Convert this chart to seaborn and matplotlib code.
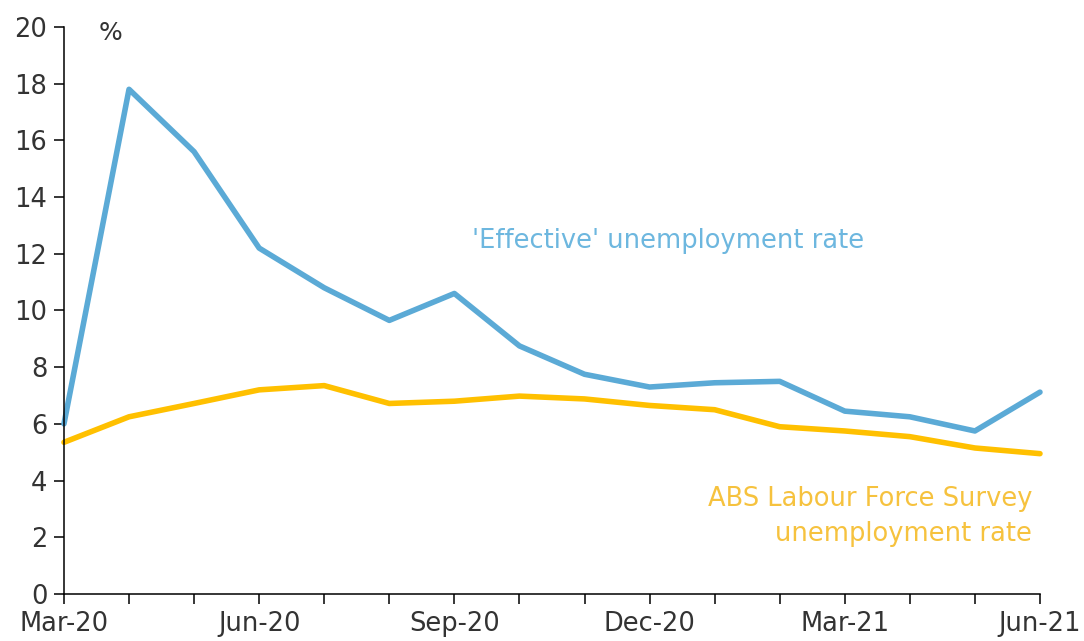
import matplotlib
matplotlib.use("Agg")
import matplotlib.pyplot as plt
import seaborn as sns
import pandas as pd

# --- data ---
months = ["Mar-20", "Apr-20", "May-20", "Jun-20", "Jul-20", "Aug-20", "Sep-20", "Oct-20",
          "Nov-20", "Dec-20", "Jan-21", "Feb-21", "Mar-21", "Apr-21", "May-21", "Jun-21"]
effective_rate = [6.0, 17.8, 15.6, 12.2, 10.8, 9.65, 10.6, 8.75,
                  7.75, 7.3, 7.45, 7.5, 6.45, 6.25, 5.75, 7.12]
abs_rate = [5.35, 6.25, 6.72, 7.2, 7.35, 6.72, 6.8, 6.98,
            6.88, 6.65, 6.5, 5.9, 5.75, 5.55, 5.15, 4.95]
tick_labels = ["Mar-20", "Jun-20", "Sep-20", "Dec-20", "Mar-21", "Jun-21"]

BLUE = "#5BAAD6"
ORANGE = "#FFC000"
TEXT = "#333333"

df = pd.DataFrame({"pos": range(len(months)), "month": months,
                   "effective": effective_rate, "abs": abs_rate})

sns.set_style("ticks")
plt.rcParams["font.family"] = ["DejaVu Sans"]

fig = plt.figure(figsize=(10.84, 6.41), dpi=100)
ax = fig.add_axes([0.059, 0.0733, 0.9004, 0.8847])

sns.lineplot(data=df, x="pos", y="effective", color=BLUE, linewidth=4, ax=ax, clip_on=False)
sns.lineplot(data=df, x="pos", y="abs", color=ORANGE, linewidth=4, ax=ax, clip_on=False)

ax.set_xlim(0, len(months) - 1)
ax.set_ylim(0, 20)
ax.set_xticks(range(len(months)))
ax.set_xticklabels([m if m in tick_labels else "" for m in months])
ax.set_yticks(range(0, 21, 2))
ax.set_xlabel("")
ax.set_ylabel("")

ax.tick_params(axis="both", direction="out", length=7, width=1.1, color="black",
               labelsize=18.5, labelcolor=TEXT)
ax.tick_params(axis="x", pad=5)
ax.tick_params(axis="y", pad=5)
for s in ["top", "right"]:
    ax.spines[s].set_visible(False)
for s in ["left", "bottom"]:
    ax.spines[s].set_color("black")
    ax.spines[s].set_linewidth(1.1)

ax.text(0.72, 19.8, "%", fontsize=18, color=TEXT, ha="center", va="center")
ax.text(6.27, 12.45, "'Effective' unemployment rate", fontsize=18.5, color="#6DB7DF",
        ha="left", va="center")
ax.text(14.88, 2.75, "ABS Labour Force Survey\nunemployment rate", fontsize=18.5,
        color="#F6C23E", ha="right", va="center", linespacing=1.45)

fig.savefig("out.png", dpi=100)
